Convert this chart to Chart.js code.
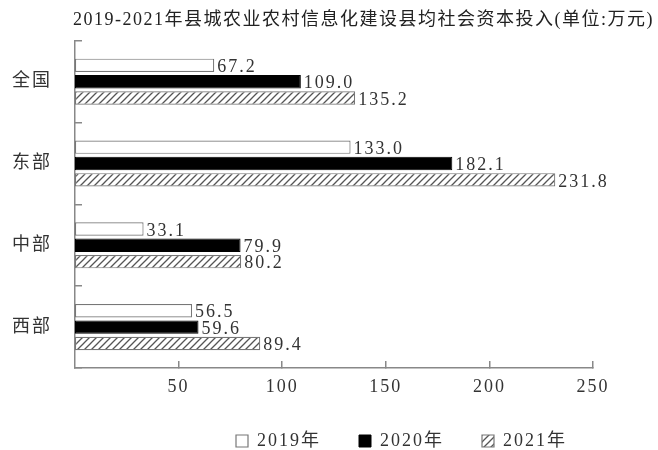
<!DOCTYPE html>
<html>
<head>
<meta charset="utf-8">
<script src="https://cdn.jsdelivr.net/npm/chart.js@4.4.1/dist/chart.umd.min.js"></script>
<style>
  html, body { margin: 0; padding: 0; background: #fff; }
  #wrap { width: 658px; height: 450px; }
</style>
</head>
<body>
<div id="wrap"><canvas id="chart" width="658" height="450"></canvas></div>
<script>
const regions = ["全国", "东部", "中部", "西部"];
const years = ["2019年", "2020年", "2021年"];
const invest2019 = [67.2, 133.0, 33.1, 56.5];
const invest2020 = [109.0, 182.1, 79.9, 59.6];
const invest2021 = [135.2, 231.8, 80.2, 89.4];
const xTicks = [50, 100, 150, 200, 250];
const titleText = "2019-2021年县城农业农村信息化建设县均社会资本投入(单位:万元)";

const FONT = "'Liberation Serif', 'Noto Sans CJK SC', serif";

// diagonal hatch used for 2021
function makeHatch() {
  const c = document.createElement("canvas");
  c.width = 7;
  c.height = 7;
  const g = c.getContext("2d");
  g.fillStyle = "#fff";
  g.fillRect(0, 0, 7, 7);
  g.strokeStyle = "#555";
  g.lineWidth = 1.3;
  g.beginPath();
  g.moveTo(0, 7); g.lineTo(7, 0);
  g.moveTo(-4, 4); g.lineTo(4, -4);
  g.moveTo(3, 11); g.lineTo(11, 3);
  g.stroke();
  return g.createPattern(c, "repeat");
}

/* the printed chart has wide, loosely set text */
const spacing = {
  id: "spacing",
  beforeUpdate(chart) { chart.ctx.letterSpacing = "2px"; },
  beforeDraw(chart) { chart.ctx.letterSpacing = "2px"; },
  // legend sits a bit right of the plot end and closer to the axis in the original
  afterLayout(chart) {
    const lg = chart.legend;
    lg.left += 12;
    lg.right += 12;
    lg.top -= 19;
    lg.bottom -= 19;
  }
};

/* title drawn above the plot */
const titlePlugin = {
  id: "titlePlugin",
  afterDraw(chart) {
    const ctx = chart.ctx;
    ctx.save();
    ctx.letterSpacing = "1.5px";
    ctx.font = "18px " + FONT;
    ctx.fillStyle = "#222";
    ctx.textBaseline = "middle";
    ctx.textAlign = "left";
    ctx.fillText(titleText, chart.chartArea.left - 2, 20);
    ctx.restore();
  }
};

/* numbers at the end of each bar */
const valueLabels = {
  id: "valueLabels",
  afterDatasetsDraw(chart) {
    const ctx = chart.ctx;
    ctx.save();
    ctx.letterSpacing = "2px";
    ctx.font = "18px " + FONT;
    ctx.fillStyle = "#333";
    ctx.textBaseline = "middle";
    ctx.textAlign = "left";
    chart.data.datasets.forEach((ds, i) => {
      chart.getDatasetMeta(i).data.forEach((bar, j) => {
        ctx.fillText(ds.data[j].toFixed(1), bar.x + 3, bar.y + 2);
      });
    });
    ctx.restore();
  }
};

const hatch = makeHatch();

const config = {
  type: "bar",
  data: {
    labels: regions,
    datasets: [
      {
        label: years[0],
        data: invest2019,
        backgroundColor: "#fff",
        borderColor: "#777",
        borderWidth: 1.2,
        borderSkipped: false,
      },
      {
        label: years[1],
        data: invest2020,
        backgroundColor: "#000",
        borderColor: "#000",
        borderWidth: 1,
        borderSkipped: false,
      },
      {
        label: years[2],
        data: invest2021,
        backgroundColor: hatch,
        borderColor: "#777",
        borderWidth: 1.2,
        borderSkipped: false,
      },
    ],
  },
  options: {
    indexAxis: "y",
    responsive: false,
    animation: false,
    categoryPercentage: 0.6,
    barPercentage: 0.82,
    layout: { padding: { top: 37, right: 65, left: 0, bottom: -29 } },
    scales: {
      x: {
        min: 0,
        max: 250,
        afterBuildTicks: (s) => {
          s.ticks = xTicks.map((v) => ({ value: v }));
        },
        border: { color: "#888", width: 1.5 },
        grid: { drawOnChartArea: false, tickLength: -7, color: "#888", lineWidth: 1.5 },
        ticks: { padding: 17, color: "#333", font: { family: FONT, size: 18, lineHeight: 1 } },
      },
      y: {
        afterFit: (s) => {
          s.width = 75;
        },
        border: { color: "#888", width: 1.5 },
        grid: { drawOnChartArea: false, tickLength: -7, color: "#888", lineWidth: 1.5, offset: true },
        ticks: { padding: 30, color: "#333", font: { family: FONT, size: 18 } },
      },
    },
    plugins: {
      title: { display: false },
      tooltip: { enabled: false },
      legend: {
        position: "bottom",
        align: "end",
        fullSize: false,
        labels: {
          boxWidth: 12,
          boxHeight: 12,
          padding: 38,
          color: "#333",
          font: { family: FONT, size: 18 },
        },
      },
    },
  },
  plugins: [spacing, titlePlugin, valueLabels],
};

new Chart(document.getElementById("chart"), config);
</script>
</body>
</html>
